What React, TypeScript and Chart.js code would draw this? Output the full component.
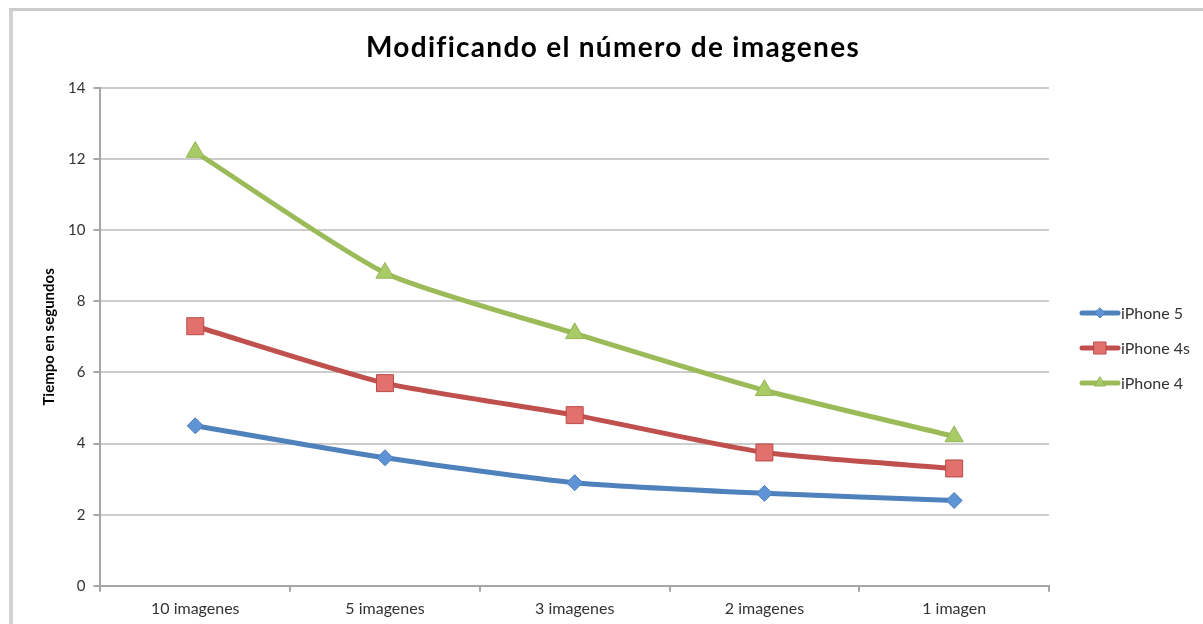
import React, { useEffect, useRef } from "react";
import { Chart, registerables } from "chart.js";

Chart.register(...registerables);

const categories = ["10 imagenes", "5 imagenes", "3 imagenes", "2 imagenes", "1 imagen"];
const iphone5 = [4.5, 3.6, 2.9, 2.6, 2.4];
const iphone4s = [7.3, 5.7, 4.8, 3.75, 3.3];
const iphone4 = [12.2, 8.8, 7.1, 5.5, 4.2];
const seriesNames = ["iPhone 5", "iPhone 4s", "iPhone 4"];
const yTicks = [0, 2, 4, 6, 8, 10, 12, 14];
const chartTitle = "Modificando el número de imagenes";

const FONT = "Lato, 'Open Sans', sans-serif";

const titlePlugin = {
  id: "customTitle",
  afterDraw(chart: any) {
    const ctx = chart.ctx;
    ctx.save();
    ctx.fillStyle = "#000";
    ctx.font = "bold 28px " + FONT;
    (ctx as any).letterSpacing = "1.3px";
    ctx.textAlign = "center";
    ctx.textBaseline = "middle";
    ctx.fillText(chartTitle, 613, 48);
    ctx.restore();
  },
};

const legendPlugin = {
  id: "customLegend",
  afterDraw(chart: any) {
    const ctx = chart.ctx;
    const x0 = 1080;
    const ys = [313, 348, 383];
    chart.data.datasets.forEach((ds: any, i: number) => {
      const y = ys[i];
      ctx.save();
      ctx.strokeStyle = ds.borderColor;
      ctx.lineWidth = 5;
      ctx.lineCap = "round";
      ctx.beginPath();
      ctx.moveTo(x0 + 2, y);
      ctx.lineTo(x0 + 38, y);
      ctx.stroke();
      ctx.fillStyle = ds.pointBackgroundColor;
      ctx.strokeStyle = ds.pointBorderColor;
      ctx.lineWidth = 1;
      const cx = x0 + 20;
      ctx.beginPath();
      if (ds.pointStyle === "rectRot") {
        const r = 5;
        ctx.moveTo(cx, y - r);
        ctx.lineTo(cx + r, y);
        ctx.lineTo(cx, y + r);
        ctx.lineTo(cx - r, y);
        ctx.closePath();
      } else if (ds.pointStyle === "rect") {
        ctx.rect(cx - 6, y - 6, 12, 12);
      } else {
        const r = 6;
        ctx.moveTo(cx, y - r);
        ctx.lineTo(cx + r * 0.866, y + r * 0.5);
        ctx.lineTo(cx - r * 0.866, y + r * 0.5);
        ctx.closePath();
      }
      ctx.fill();
      ctx.stroke();
      ctx.fillStyle = "#333";
      ctx.font = "16px " + FONT;
      ctx.textBaseline = "middle";
      ctx.textAlign = "left";
      ctx.fillText(ds.label, x0 + 41, y + 1);
      ctx.restore();
    });
  },
};

export default function App() {
  const ref = useRef<HTMLCanvasElement>(null);
  useEffect(() => {
    document.body.style.margin = "0";
    const chart = new Chart(ref.current!, {
      type: "line",
      data: {
        labels: categories,
        datasets: [
          {
            label: seriesNames[0],
            data: iphone5,
            borderColor: "#4F81BD",
            pointBackgroundColor: "#5E93D6",
            pointBorderColor: "#4A7DBA",
            pointBorderWidth: 1,
            pointStyle: "rectRot",
            pointRadius: 8,
            borderWidth: 5,
            tension: 0.2,
          },
          {
            label: seriesNames[1],
            data: iphone4s,
            borderColor: "#C0504D",
            pointBackgroundColor: "#E2716D",
            pointBorderColor: "#B8494A",
            pointBorderWidth: 1,
            pointStyle: "rect",
            pointRadius: 12,
            borderWidth: 5,
            tension: 0.2,
          },
          {
            label: seriesNames[2],
            data: iphone4,
            borderColor: "#9BBB59",
            pointBackgroundColor: "#A9CB66",
            pointBorderColor: "#93B455",
            pointBorderWidth: 1,
            pointStyle: "triangle",
            pointRadius: 10.5,
            borderWidth: 5,
            tension: 0.2,
          },
        ],
      },
      options: {
        animation: false,
        responsive: false,
        layout: { padding: { top: 88, right: 154, bottom: -1, left: 40 } },
        plugins: {
          legend: { display: false },
          tooltip: { enabled: false },
          title: { display: false },
        },
        scales: {
          x: {
            type: "category",
            offset: true,
            grid: {
              display: true,
              offset: true,
              drawOnChartArea: false,
              drawTicks: true,
              tickLength: 6,
              color: "#a6a6a6",
              lineWidth: 2,
            },
            border: { display: true, color: "#a6a6a6", width: 2 },
            ticks: {
              font: { family: FONT, size: 16 },
              color: "#333",
              padding: 7,
            },
          },
          y: {
            min: 0,
            max: 14,
            afterBuildTicks: (axis: any) => {
              axis.ticks = yTicks.map((v) => ({ value: v }));
            },
            grid: {
              color: "#cccccc",
              lineWidth: 2,
              tickLength: 7,
              tickColor: "#a6a6a6",
            },
            border: { display: true, color: "#a6a6a6", width: 2 },
            ticks: {
              font: { family: FONT, size: 15 },
              color: "#333",
              padding: 8,
            },
            title: {
              display: true,
              text: "Tiempo en segundos",
              font: { family: FONT, size: 15, weight: "bold" },
              color: "#000",
              padding: { top: 0, bottom: 2 },
            },
          },
        },
      },
      plugins: [titlePlugin, legendPlugin],
    });
    return () => chart.destroy();
  }, []);
  return (
    <div style={{ position: "relative", width: 1203, height: 624, background: "#fff" }}>
      <canvas ref={ref} width={1203} height={624} style={{ display: "block" }} />
      <div
        style={{
          position: "absolute",
          left: 9,
          top: 8,
          right: 0,
          bottom: 0,
          borderTop: "3px solid #cbcbcb",
          borderLeft: "4px solid #d2d2d2",
          pointerEvents: "none",
        }}
      />
    </div>
  );
}
